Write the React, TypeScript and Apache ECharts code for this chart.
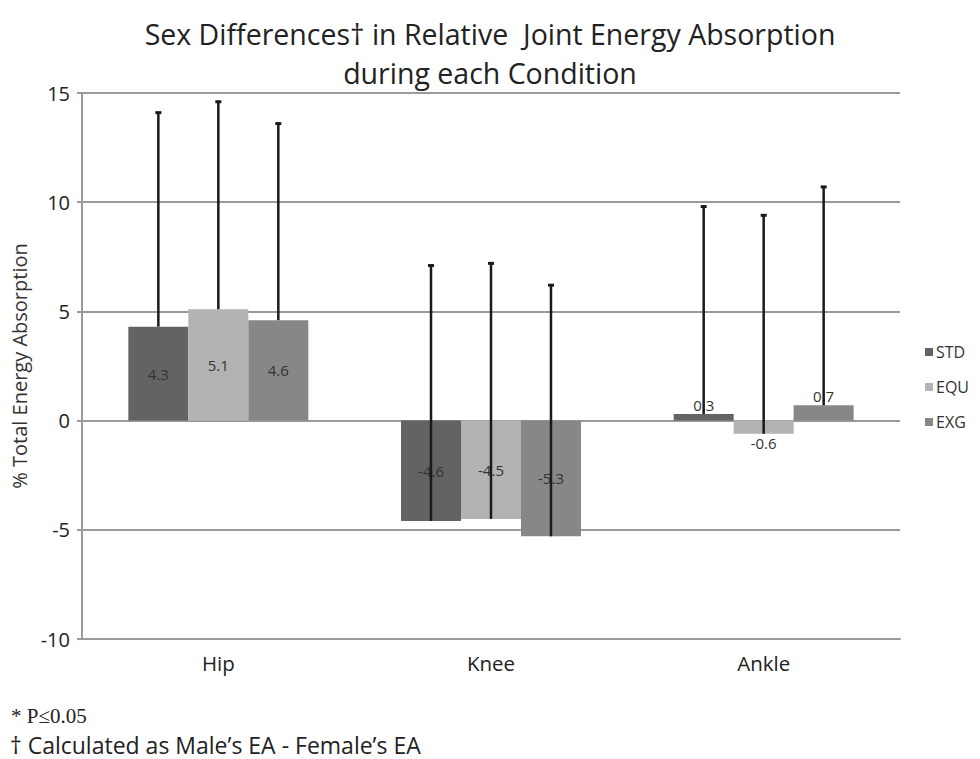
import React, { useEffect, useRef } from "react";
import * as echarts from "echarts";

const categories = ["Hip", "Knee", "Ankle"];
const seriesNames = ["STD", "EQU", "EXG"];
const stdValues = [4.3, -4.6, 0.3];
const equValues = [5.1, -4.5, -0.6];
const exgValues = [4.6, -5.3, 0.7];
const stdUpper = [14.1, 7.1, 9.8];
const equUpper = [14.6, 7.2, 9.4];
const exgUpper = [13.6, 6.2, 10.7];
const yTicks = { min: -10, max: 15, interval: 5 };

const colors = ["#636363", "#b3b3b3", "#878787"];
const FONT = "'Open Sans', Lato, sans-serif";
const CAT_GAP = 0.34;

export default function App() {
  const ref = useRef<HTMLDivElement>(null);
  useEffect(() => {
    if (!ref.current) return;
    const chart = echarts.init(ref.current, undefined, { renderer: "svg" });
    const values = [stdValues, equValues, exgValues];
    const uppers = [stdUpper, equUpper, exgUpper];

    const barSeries = seriesNames.map((name, k) => ({
      name,
      type: "bar",
      barGap: "0%",
      barCategoryGap: CAT_GAP * 100 + "%",
      itemStyle: { color: colors[k] },
      data: values[k].map((v) => ({
        value: v,
        label: {
          show: true,
          position: Math.abs(v) < 1 ? (v >= 0 ? "top" : "bottom") : "inside",
          distance: 2,
          color: "#333",
          fontSize: 15,
          fontFamily: FONT,
        },
      })),
      z: 2,
    }));

    const errSeries = seriesNames.map((name, k) => ({
      name: name + "-err",
      type: "custom",
      z: 3,
      silent: true,
      encode: { x: 0, y: [1, 2] },
      data: values[k].map((v, i) => [i, v, uppers[k][i]]),
      renderItem: (params: any, api: any) => {
        const ci = api.value(0);
        const lo = api.coord([ci, api.value(1)]);
        const hi = api.coord([ci, api.value(2)]);
        const catW = api.size([1, 0])[0];
        const barW = (catW * (1 - CAT_GAP)) / 3;
        const x = lo[0] + (k - 1) * barW;
        return {
          type: "group",
          children: [
            {
              type: "line",
              shape: { x1: x, y1: lo[1], x2: x, y2: hi[1] },
              style: { stroke: "#1a1a1a", lineWidth: 2.5 },
            },
            {
              type: "line",
              shape: { x1: x - 3, y1: hi[1], x2: x + 3, y2: hi[1] },
              style: { stroke: "#1a1a1a", lineWidth: 3 },
            },
          ],
        };
      },
    }));

    chart.setOption({
      animation: false,
      backgroundColor: "#ffffff",
      title: {
        text: "Sex Differences† in Relative  Joint Energy Absorption\nduring each Condition",
        left: "center",
        top: 9,
        textStyle: {
          fontFamily: FONT,
          fontSize: 28.5,
          fontWeight: "normal",
          color: "#222",
          lineHeight: 39,
        },
      },
      legend: {
        data: seriesNames,
        orient: "vertical",
        left: 920,
        top: 339,
        itemWidth: 8,
        itemHeight: 8,
        itemGap: 19,
        icon: "rect",
        textStyle: { fontFamily: FONT, fontSize: 16, color: "#333", padding: [0, 0, 0, -2] },
      },
      grid: { left: 82, right: 80, top: 93, bottom: 120 },
      xAxis: {
        type: "category",
        data: categories,
        axisLine: { onZero: false, lineStyle: { color: "#9a9a9a", width: 2 } },
        axisTick: { show: false },
        axisLabel: { fontFamily: FONT, fontSize: 20.5, color: "#222", margin: 13 },
      },
      yAxis: {
        type: "value",
        min: yTicks.min,
        max: yTicks.max,
        interval: yTicks.interval,
        name: "% Total Energy Absorption",
        nameLocation: "middle",
        nameGap: 52,
        nameTextStyle: { fontFamily: FONT, fontSize: 20, color: "#333" },
        axisLine: { show: true, lineStyle: { color: "#9a9a9a", width: 2 } },
        axisTick: { show: true, length: 5, lineStyle: { color: "#9a9a9a", width: 2 } },
        axisLabel: { fontFamily: FONT, fontSize: 20, color: "#222", margin: 12 },
        splitLine: { lineStyle: { color: "#9a9a9a", width: 2 } },
      },
      graphic: [
        {
          type: "text",
          left: 11,
          top: 705,
          style: {
            text: "* P≤0.05",
            font: "21px 'Liberation Serif', 'DejaVu Serif', serif",
            fill: "#222",
          },
        },
        {
          type: "text",
          left: 10,
          top: 733,
          style: {
            text: "† Calculated as Male’s EA - Female’s EA",
            font: "23px 'Open Sans', Lato, sans-serif",
            fill: "#222",
          },
        },
      ],
      series: [...barSeries, ...errSeries],
    });
    return () => chart.dispose();
  }, []);
  return <div ref={ref} style={{ width: 980, height: 759, position: "absolute", left: 0, top: 0 }} />;
}
